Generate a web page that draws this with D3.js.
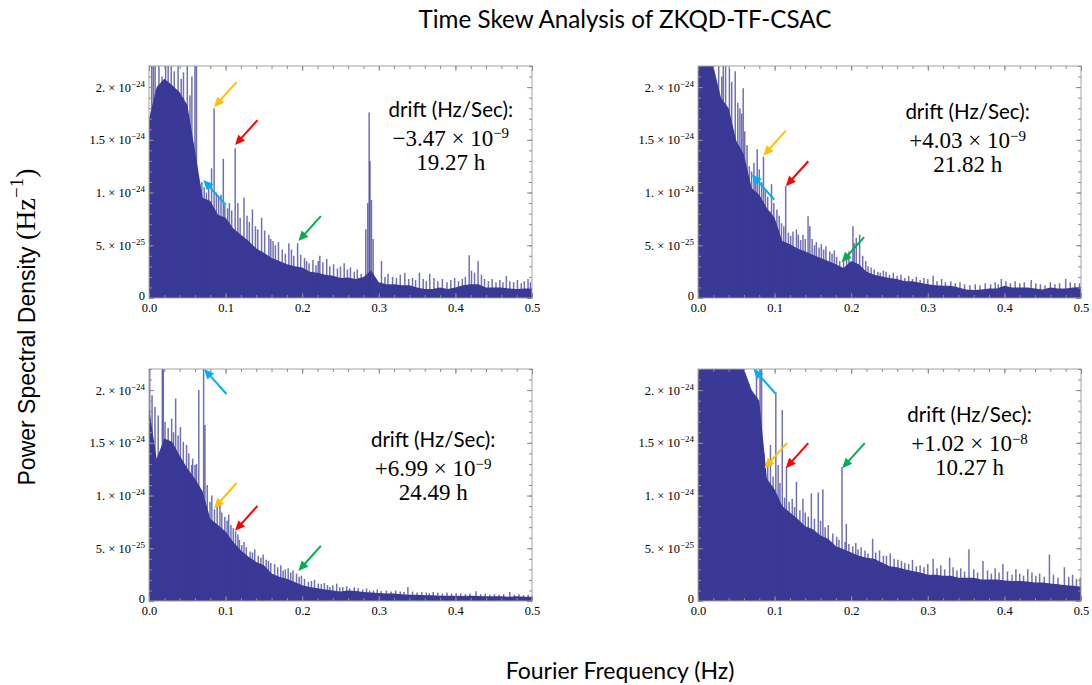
<!DOCTYPE html>
<html>
<head>
<meta charset="utf-8">
<style>
  body { margin: 0; background: #fff; }
  .frame { fill: none; stroke: #a3a3a3; stroke-width: 1; }
  .axis path { display: none; }
  .axis line { stroke: #8c8c8c; }
  .axis text { font-family: "Liberation Serif", serif; font-size: 12.5px; fill: #000; }
  .psd { fill: #3a3996; }
  .spike { stroke: #3a3996; stroke-width: 1.5; stroke-opacity: .72; }
  .note { font-family: Lato, sans-serif; font-size: 20.5px; fill: #000; }
  .math { font-family: "Liberation Serif", serif; font-size: 23px; fill: #000; }
  .title { font-family: Lato, sans-serif; fill: #000; }
</style>
</head>
<body>
<svg width="1092" height="685"></svg>
<script src="https://d3js.org/d3.v7.min.js"></script>
<script>

// frequency grid of the read-off envelope (Hz)
var freq = [0,.01,.02,.03,.04,.05,.06,.07,.08,.09,.1,.11,.12,.13,.14,.15,.16,.17,.18,.19,.2,
  .21,.22,.23,.24,.25,.26,.27,.28,.29,.3,.31,.32,.33,.34,.35,.36,.37,.38,.39,.4,
  .41,.42,.43,.44,.45,.46,.47,.48,.49,.5]

// dense part of each spectrum, units of 1e-25 Hz^-1
var psd1 = [17,20,20.8,20.2,19.5,18.3,14,9.5,9.2,7.9,7.6,6.6,6.0,5.4,4.7,4.3,3.8,3.5,3.2,3.0,2.9,
  2.5,2.4,2.2,2.1,1.9,1.95,1.8,2.0,2.6,1.5,1.3,1.3,1.2,1.2,1.0,0.85,0.85,1.0,0.85,1.0,
  1.2,1.3,1.3,1.0,1.0,1.0,0.9,0.85,0.9,0.9]
var psd2 = [22,22,22,19,18,14.9,13.6,10.4,9.8,8.5,7.6,5.4,5.1,4.7,4.4,4.1,3.8,3.5,3.2,2.85,3.5,
  3.2,2.5,2.2,2.05,1.9,1.8,1.6,1.6,1.45,1.3,1.2,1.15,1.15,1.0,0.8,0.75,0.8,0.9,0.9,1.15,
  1.0,1.0,1.0,0.9,0.8,1.0,0.9,0.9,1.0,1.05]
var psd3 = [18.3,13.5,15.4,15.1,13.8,12.6,11.6,10.4,7.8,7.2,6.6,5.6,4.8,4.2,3.7,3.4,2.6,2.3,2.1,1.8,1.5,
  1.33,1.2,1.1,1.0,0.9,1.0,0.95,0.85,0.8,0.75,0.7,0.7,0.63,0.6,0.6,0.55,0.55,0.5,0.5,0.5,
  0.48,0.5,0.48,0.45,0.45,0.45,0.4,0.45,0.4,0.4]
var psd4 = [22,22,22,22,22,22,22,20,19,11.6,10.6,9.0,8.4,7.8,7.1,6.8,6.2,5.9,5.2,4.9,4.6,
  4.3,4.1,4.0,3.65,3.3,3.2,3.0,2.85,2.7,2.5,2.5,2.4,2.4,2.2,2.2,2.2,2.05,2.05,2.05,1.95,
  1.9,1.9,1.85,1.75,1.75,1.65,1.6,1.5,1.45,1.35]

// single spectral lines standing out of the dense part: [Hz, 1e-25]
var spikes1 = [[0.0035,22],[0.0057,22],[0.008,22],[0.013,22],[0.017,21],[0.0217,22],[0.025,22],
  [0.029,22],[0.033,21.5],[0.038,22],[0.042,20.8],[0.045,21.4],[0.05,22],[0.0535,19.2],[0.056,21],
  [0.06,22],[0.062,22],[0.066,10.8],[0.069,11],[0.072,10.5],[0.075,10.0],[0.078,11.0],[0.0817,12.3],
  [0.085,18.0],[0.088,10.0],[0.091,9.6],[0.094,9.8],[0.097,13.2],[0.099,8.8],[0.1026,8.5],
  [0.105,9.0],[0.108,8.3],[0.1125,14.2],[0.116,9.0],[0.119,7.6],[0.124,9.5],[0.128,7.8],
  [0.131,7.2],[0.135,8.4],[0.139,6.8],[0.142,6.5],[0.147,7.6],[0.151,6.4],[0.1565,6.0],
  [0.159,5.6],[0.162,5.4],[0.165,5.0],[0.169,5.3],[0.174,4.6],[0.178,4.2],[0.1826,5.2],
  [0.186,4.6],[0.189,4.0],[0.194,5.2],[0.198,4.1],[0.203,3.8],[0.2057,3.5],[0.209,3.3],
  [0.214,3.6],[0.218,3.1],[0.2209,3.5],[0.223,4.0],[0.227,3.4],[0.232,3.7],[0.236,3.0],
  [0.241,3.2],[0.246,2.8],[0.25,3.0],[0.2548,3.3],[0.259,2.7],[0.263,2.9],[0.268,2.5],
  [0.272,2.7],[0.277,2.3],[0.283,6.5],[0.2855,9],[0.2874,17.6],[0.2885,13],[0.2904,9.3],
  [0.2926,5.6],[0.3035,3.5],[0.308,2.0],[0.312,2.3],[0.318,2.0],[0.323,1.9],[0.328,2.2],
  [0.334,2.4],[0.339,1.8],[0.344,1.9],[0.348,1.7],[0.353,2.4],[0.358,1.8],[0.362,1.6],
  [0.3665,2.3],[0.372,1.9],[0.377,1.6],[0.383,1.8],[0.389,1.5],[0.394,1.7],[0.399,1.9],
  [0.404,1.6],[0.409,1.8],[0.413,2.0],[0.418,4.06],[0.421,2.6],[0.425,2.4],[0.4296,3.5],
  [0.434,2.2],[0.438,1.8],[0.443,1.6],[0.448,1.8],[0.453,1.5],[0.458,1.7],[0.462,1.5],
  [0.4665,2.1],[0.471,1.6],[0.476,1.5],[0.481,1.7],[0.486,1.4],[0.49,1.6],[0.4948,1.8],[0.498,1.5]]
var spikes2 = [[0.027,22],[0.031,21],[0.033,22],[0.036,22],[0.041,21.8],[0.044,20.5],[0.0486,21.5],
  [0.052,18.5],[0.0547,18],[0.057,17.5],[0.059,19.9],[0.061,15.8],[0.064,14.5],[0.067,12.5],
  [0.07,12.0],[0.073,12.8],[0.075,11.5],[0.0773,14.1],[0.08,12.2],[0.083,11.0],[0.0855,13.4],
  [0.088,10.2],[0.091,9.6],[0.094,8.2],[0.096,10.8],[0.099,9.0],[0.103,8.4],[0.106,7.8],
  [0.109,7.1],[0.112,6.8],[0.1145,10.6],[0.118,6.2],[0.121,5.9],[0.124,6.3],[0.1285,6.5],
  [0.131,6.0],[0.134,5.5],[0.137,6.0],[0.14,5.6],[0.1437,7.75],[0.146,6.8],[0.149,5.6],
  [0.152,5.0],[0.1545,5.3],[0.158,4.8],[0.161,5.1],[0.164,4.6],[0.167,4.9],[0.172,4.4],
  [0.175,4.2],[0.178,4.5],[0.181,3.9],[0.185,3.5],[0.19,3.6],[0.194,4.0],[0.197,4.4],
  [0.2023,6.8],[0.204,5.2],[0.2066,5.7],[0.211,6.0],[0.215,4.0],[0.219,3.5],[0.222,3.0],
  [0.226,2.9],[0.23,2.7],[0.2348,2.5],[0.238,2.4],[0.242,2.6],[0.2455,2.5],[0.25,2.2],
  [0.255,2.4],[0.26,2.1],[0.265,2.2],[0.27,1.9],[0.275,2.1],[0.28,1.8],[0.285,2.0],[0.29,1.7],
  [0.295,1.9],[0.3,1.8],[0.307,2.1],[0.312,1.6],[0.318,1.8],[0.323,1.5],[0.33,1.6],[0.336,1.4],
  [0.342,1.5],[0.348,1.3],[0.355,1.2],[0.362,1.3],[0.368,1.2],[0.375,1.4],[0.382,1.3],
  [0.388,1.5],[0.392,1.3],[0.396,1.8],[0.402,1.6],[0.408,1.4],[0.414,1.6],[0.42,1.4],
  [0.426,1.5],[0.435,1.7],[0.441,1.4],[0.447,1.3],[0.453,1.2],[0.46,1.5],[0.466,1.3],
  [0.472,1.4],[0.48,1.8],[0.486,1.5],[0.492,1.4],[0.498,1.4]]
var spikes3 = [[0.0009,22],[0.004,19.5],[0.0078,18.4],[0.012,17.6],[0.0174,22],[0.0187,22],
  [0.021,17],[0.025,16.4],[0.0296,17.3],[0.032,16],[0.0348,19.2],[0.038,15.7],[0.041,16.5],
  [0.0448,15.1],[0.049,14.8],[0.052,14],[0.0557,12.9],[0.057,13.5],[0.06,12.9],[0.062,13],
  [0.065,20],[0.0713,22],[0.073,16.7],[0.076,11],[0.0796,9.4],[0.082,10],[0.0855,8.7],
  [0.089,9.0],[0.0926,9.1],[0.095,8.4],[0.099,8.0],[0.102,7.6],[0.104,8.2],[0.107,7.2],
  [0.11,6.9],[0.113,6.6],[0.116,6.3],[0.118,5.8],[0.121,5.3],[0.124,5.6],[0.127,5.1],
  [0.132,4.7],[0.135,4.6],[0.138,4.9],[0.1426,4.3],[0.146,4.1],[0.149,4.4],[0.153,3.9],
  [0.156,3.8],[0.159,3.6],[0.164,3.5],[0.168,3.2],[0.172,3.4],[0.175,2.9],[0.178,3.0],
  [0.1817,3.1],[0.185,2.7],[0.188,2.9],[0.1926,2.6],[0.196,2.3],[0.199,2.4],[0.203,2.1],
  [0.208,1.8],[0.212,1.9],[0.216,2.0],[0.221,1.65],[0.225,1.6],[0.229,1.7],[0.233,1.5],
  [0.236,1.33],[0.24,1.5],[0.245,1.65],[0.249,1.3],[0.253,1.33],[0.258,1.4],[0.262,1.2],
  [0.268,1.3],[0.273,1.2],[0.279,1.1],[0.284,1.2],[0.288,1.0],[0.293,1.0],[0.298,1.1],
  [0.303,0.95],[0.31,1.0],[0.316,0.9],[0.322,1.0],[0.328,0.9],[0.333,0.85],[0.338,1.33],
  [0.344,0.9],[0.35,0.8],[0.356,0.85],[0.362,0.8],[0.366,0.75],[0.371,0.85],[0.377,0.8],
  [0.383,0.7],[0.389,0.8],[0.395,0.7],[0.401,0.75],[0.407,0.7],[0.413,0.65],[0.419,0.7],
  [0.427,0.92],[0.433,0.65],[0.439,0.7],[0.445,0.6],[0.451,0.65],[0.457,0.6],[0.463,0.65],
  [0.471,0.85],[0.477,0.6],[0.483,0.65],[0.489,0.55],[0.495,0.6]]
var spikes4 = [[0.0764,22],[0.081,22],[0.083,22],[0.086,14],[0.0872,12.5],[0.091,12.8],
  [0.0946,14.8],[0.098,11.8],[0.1016,19.8],[0.1046,12.9],[0.107,11.2],[0.11,18.1],[0.113,9.8],
  [0.1155,12.7],[0.119,9.4],[0.123,9.7],[0.126,8.9],[0.1285,11.3],[0.133,8.6],[0.137,9.7],
  [0.14,8.4],[0.144,8.0],[0.148,10.2],[0.152,7.8],[0.157,10.3],[0.16,7.6],[0.163,10.6],
  [0.166,7.0],[0.17,7.2],[0.176,6.4],[0.181,6.1],[0.184,5.8],[0.188,12.7],[0.192,5.6],
  [0.1936,7.3],[0.197,5.4],[0.202,5.2],[0.206,5.5],[0.209,4.9],[0.213,5.1],[0.218,4.8],
  [0.222,4.5],[0.228,5.9],[0.232,4.6],[0.237,4.8],[0.242,4.3],[0.246,4.3],[0.251,4.5],
  [0.256,4.0],[0.261,3.9],[0.2656,3.8],[0.27,3.6],[0.275,3.5],[0.28,3.9],[0.285,3.3],
  [0.29,3.4],[0.295,3.2],[0.3,3.5],[0.307,4.0],[0.312,3.1],[0.317,3.4],[0.322,3.0],
  [0.3285,4.1],[0.333,3.2],[0.338,2.9],[0.343,3.1],[0.348,2.8],[0.3537,4.9],[0.36,3.0],
  [0.365,2.7],[0.372,3.8],[0.378,2.9],[0.383,2.6],[0.388,3.1],[0.393,2.7],[0.398,3.5],
  [0.404,2.8],[0.41,2.5],[0.415,3.0],[0.42,2.6],[0.425,2.4],[0.4305,3.0],[0.436,2.7],
  [0.441,2.4],[0.446,2.6],[0.452,2.3],[0.4588,4.4],[0.464,2.5],[0.47,2.2],[0.4783,3.2],
  [0.484,2.3],[0.489,2.5],[0.494,2.1],[0.499,2.2]]

// arrow tips: [colour key, Hz, 1e-25, direction]
var arrows1 = [["orange",0.0849,18.1,"dl"],["red",0.1123,14.5,"dl"],["blue",0.0709,11.2,"ul"],["green",0.195,5.4,"dl"]]
var arrows2 = [["orange",0.0854,13.5,"dl"],["red",0.1146,10.6,"dl"],["blue",0.0703,11.7,"ul"],["green",0.1875,3.4,"dl"]]
var arrows3 = [["orange",0.0849,8.8,"dl"],["red",0.1123,6.65,"dl"],["blue",0.0718,22,"ul"],["green",0.195,2.85,"dl"]]
var arrows4 = [["orange",0.0868,12.6,"dl"],["red",0.1146,12.6,"dl"],["blue",0.0724,22,"ul"],["green",0.1883,12.6,"dl"]]

var driftMant = ["\u22123.47","+4.03","+6.99","+1.02"]
var driftExp = ["\u22129","\u22129","\u22129","\u22128"]
var periods = ["19.27 h","21.82 h","24.49 h","10.27 h"]

var xTickLabels = ["0.0","0.1","0.2","0.3","0.4","0.5"]
var yTickVals = [0,5,10,15,20]
var yTickMant = ["0","5.","1.","1.5","2."]
var yTickExp = [null,"\u221225","\u221224","\u221224","\u221224"]

var arrowColor = {orange:"#ffc000", red:"#ff0000", blue:"#00b0f0", green:"#00b050"}

var svg = d3.select("svg"),
    W = 383, H = 232,
    colLeft = [149, 698], rowTop = [66, 369]

var panels = [
  {psd:psd1, spikes:spikes1, arrows:arrows1, col:0, row:0, note:[0.394,17.2]},
  {psd:psd2, spikes:spikes2, arrows:arrows2, col:1, row:0, note:[0.352,16.95]},
  {psd:psd3, spikes:spikes3, arrows:arrows3, col:0, row:1, note:[0.371,14.6]},
  {psd:psd4, spikes:spikes4, arrows:arrows4, col:1, row:1, note:[0.3545,16.95]}
]

var defs = svg.append("defs")

panels.forEach(function(p, i) {
  var g = svg.append("g")
    .attr("transform", "translate(" + colLeft[p.col] + "," + rowTop[p.row] + ")")

  var x = d3.scaleLinear().domain([0, 0.5]).range([0, W])
  var y = d3.scaleLinear().domain([0, 22]).range([H, 0])

  defs.append("clipPath").attr("id", "clip" + i)
    .append("rect").attr("width", W).attr("height", H)

  var plot = g.append("g").attr("clip-path", "url(#clip" + i + ")")

  var area = d3.area()
    .x(function(d, j) { return x(freq[j]) })
    .y0(H)
    .y1(function(d) { return y(d) })

  plot.append("path").datum(p.psd).attr("class", "psd").attr("d", area)

  plot.selectAll(".spike").data(p.spikes).join("line")
    .attr("class", "spike")
    .attr("x1", function(d) { return x(d[0]) })
    .attr("x2", function(d) { return x(d[0]) })
    .attr("y1", H)
    .attr("y2", function(d) { return y(d[1]) })

  g.append("rect").attr("class", "frame").attr("width", W).attr("height", H)

  // frame ticks, pointing inwards
  var xMajor = x.ticks(5), xMinor = x.ticks(25), yMinor = y.ticks(22)

  g.append("g").attr("class", "axis").attr("transform", "translate(0," + H + ")")
    .call(d3.axisBottom(x).tickValues(xMajor).tickSize(-5).tickPadding(5)
      .tickFormat(function(d, j) { return xTickLabels[j] }))
  g.append("g").attr("class", "axis").attr("transform", "translate(0," + H + ")")
    .call(d3.axisBottom(x).tickValues(xMinor).tickSize(-3).tickFormat(""))
  g.append("g").attr("class", "axis")
    .call(d3.axisTop(x).tickValues(xMajor).tickSize(-5).tickFormat(""))
  g.append("g").attr("class", "axis")
    .call(d3.axisTop(x).tickValues(xMinor).tickSize(-3).tickFormat(""))

  var gy = g.append("g").attr("class", "axis")
    .call(d3.axisLeft(y).tickValues(yTickVals).tickSize(-5).tickPadding(4))
  gy.selectAll(".tick text").each(function(d, j) {
    var t = d3.select(this).text(null)
    if (yTickExp[j]) {
      t.append("tspan").text(yTickMant[j] + " \u00d7 10")
      t.append("tspan").attr("dy", "-0.55em").attr("font-size", "9px").text(yTickExp[j])
    } else {
      t.attr("dy", "0.1em").text(yTickMant[j])
    }
  })
  g.append("g").attr("class", "axis")
    .call(d3.axisLeft(y).tickValues(yMinor).tickSize(-3).tickFormat(""))
  g.append("g").attr("class", "axis").attr("transform", "translate(" + W + ",0)")
    .call(d3.axisRight(y).tickValues(yTickVals).tickSize(-5).tickFormat(""))
  g.append("g").attr("class", "axis").attr("transform", "translate(" + W + ",0)")
    .call(d3.axisRight(y).tickValues(yMinor).tickSize(-3).tickFormat(""))

  // coloured arrows
  p.arrows.forEach(function(a) {
    var hx = x(a[1]), hy = y(a[2])
    var tx = hx + 22.5, ty = a[3] == "dl" ? hy - 25 : hy + 25
    var len = Math.hypot(hx - tx, hy - ty)
    var ux = (hx - tx) / len, uy = (hy - ty) / len
    var c = arrowColor[a[0]]
    g.append("line")
      .attr("x1", tx).attr("y1", ty)
      .attr("x2", hx - ux * 7).attr("y2", hy - uy * 7)
      .attr("stroke", c).attr("stroke-width", 2)
    g.append("path")
      .attr("d", "M" + hx + "," + hy +
        "L" + (hx - ux * 10 - uy * 4.5) + "," + (hy - uy * 10 + ux * 4.5) +
        "L" + (hx - ux * 10 + uy * 4.5) + "," + (hy - uy * 10 - ux * 4.5) + "Z")
      .attr("fill", c)
  })

  // drift / period note
  var nx = x(p.note[0]), ny = y(p.note[1])
  g.append("text").attr("class", "note").attr("x", nx).attr("y", ny)
    .attr("text-anchor", "middle").text("drift (Hz/Sec):")
  var m = g.append("text").attr("class", "math").attr("x", nx).attr("y", ny + 29)
    .attr("text-anchor", "middle")
  m.append("tspan").text(driftMant[i] + " \u00d7 10")
  m.append("tspan").attr("dy", "-0.5em").attr("font-size", "15px").text(driftExp[i])
  g.append("text").attr("class", "math").attr("x", nx).attr("y", ny + 53)
    .attr("text-anchor", "middle").text(periods[i])
})

svg.append("text").attr("class", "title")
  .attr("x", 625).attr("y", 28).attr("text-anchor", "middle")
  .style("font-size", "24.2px")
  .text("Time Skew Analysis of ZKQD-TF-CSAC")

svg.append("text").attr("class", "title")
  .attr("x", 620).attr("y", 679).attr("text-anchor", "middle")
  .style("font-size", "23px")
  .text("Fourier Frequency (Hz)")

var yl = svg.append("text")
  .attr("transform", "translate(35,327) rotate(-90)")
  .attr("text-anchor", "middle")
  .attr("font-size", "23px")
yl.append("tspan").attr("font-family", "'Liberation Sans', Arial, sans-serif").text("Power Spectral Density ")
yl.append("tspan").attr("font-family", "'Liberation Serif', serif").attr("font-size", "28px").text("(Hz")
yl.append("tspan").attr("font-family", "'Liberation Serif', serif").attr("font-size", "19px").attr("dy", "-0.65em").text("\u22121")
yl.append("tspan").attr("font-family", "'Liberation Serif', serif").attr("font-size", "28px").attr("dy", "0.44em").text(")")

</script>
</body>
</html>
